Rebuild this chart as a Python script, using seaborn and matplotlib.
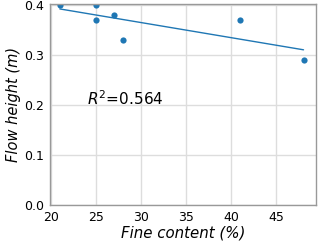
import numpy as np
import pandas as pd
import seaborn as sns
import matplotlib
matplotlib.use("Agg")
import matplotlib.pyplot as plt

# Data
fine_content = [21, 25, 25, 27, 28, 41, 48]
flow_height = [0.40, 0.40, 0.37, 0.38, 0.33, 0.37, 0.29]
r2_label = "$R^2$=0.564"

df = pd.DataFrame({"fine": fine_content, "height": flow_height})

sns.set_style("whitegrid")
plt.rcParams["font.family"] = ["DejaVu Sans"]
plt.rcParams["text.color"] = "black"
plt.rcParams["axes.labelcolor"] = "black"
plt.rcParams["xtick.color"] = "black"
plt.rcParams["ytick.color"] = "black"

fig, ax = plt.subplots(figsize=(3.2, 2.41), dpi=100)
sns.regplot(x="fine", y="height", data=df, ci=None, ax=ax,
            color="#1f77b4",
            scatter_kws={"s": 20, "alpha": 1, "linewidths": 0},
            line_kws={"linewidth": 1})

ax.text(24, 0.212, r2_label, fontsize=11, va="center", ha="left")

ax.set_xlim(19.9, 49.4)
ax.set_ylim(0, 0.402)
ax.set_xticks([20, 25, 30, 35, 40, 45])
ax.set_yticks([0.0, 0.1, 0.2, 0.3, 0.4])
ax.set_xlabel("Fine content (%)", fontstyle="italic", fontsize=10.8, labelpad=1)
ax.set_ylabel("Flow height (m)", fontstyle="italic", fontsize=10.5, labelpad=2)
ax.tick_params(labelsize=9, pad=1)
ax.grid(color="#dddddd", linewidth=1)
for s in ax.spines.values():
    s.set_color("#999999")
    s.set_linewidth(1)

plt.subplots_adjust(left=0.156, right=0.988, top=0.983, bottom=0.15)
plt.savefig("out.png", dpi=100)
